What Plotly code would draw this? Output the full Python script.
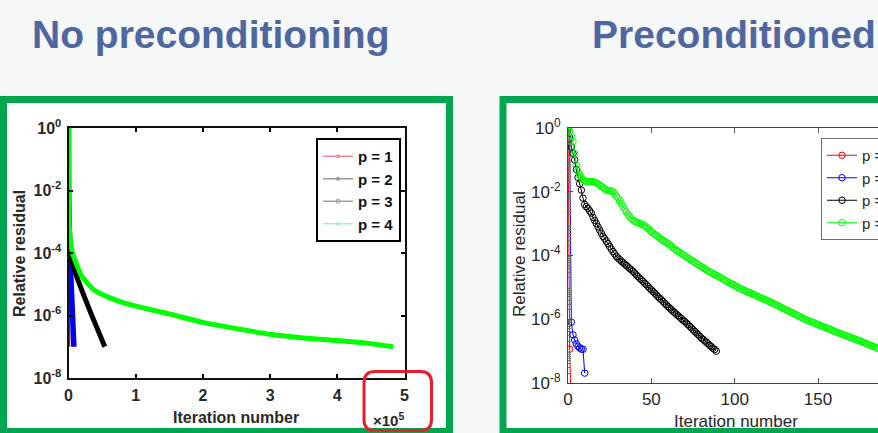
import plotly.graph_objects as go

W, H = 878, 433

# ---------------- data ----------------
# Left panel: no preconditioning (iteration in units of 1e5, residual given as log10)
left_p1_iter = [0, 0.005, 0.01, 0.012]
left_p1_log10res = [0, -3.0, -5.5, -7.0]
left_p2_iter = [0, 0.002, 0.02, 0.05, 0.08]
left_p2_log10res = [0, -3.0, -4.0, -5.5, -7.0]
left_p3_iter = [0, 0.01, 0.05, 0.097, 0.3, 0.54]
left_p3_log10res = [0, -3.0, -4.2, -4.6, -5.75, -7.0]
left_p4_iter = [0, 0.002, 0.01, 0.03, 0.06, 0.1, 0.2, 0.39, 0.6, 0.79, 1.0,
                1.5, 2.0, 2.5, 3.0, 3.5, 4.0, 4.5, 4.83]
left_p4_log10res = [0, -1.5, -3.0, -3.65, -4.0, -4.25, -4.75, -5.2, -5.42, -5.57, -5.7,
                    -5.95, -6.22, -6.42, -6.6, -6.72, -6.8, -6.9, -7.0]

# Right panel: preconditioned (iteration index, residual given as log10)
right_p1_log10res = [0, -6.94, -9.0]
right_p2_log10res = [0, -0.3, -6.09, -6.49, -6.65, -6.77, -6.85, -6.9, -6.94, -6.94, -7.69]
right_p3_log10res = [
    0, -0.35, -0.6, -0.8, -1.0, -1.3, -1.55, -1.75, -1.95, -2.2,
    -2.4, -2.47, -2.52, -2.6, -2.67, -2.8, -2.9, -3.0, -3.1, -3.2,
    -3.3, -3.4, -3.47, -3.55, -3.63, -3.72, -3.8, -3.88, -3.95, -4.03,
    -4.08, -4.13, -4.18, -4.22, -4.27, -4.31, -4.36, -4.41, -4.45, -4.5,
    -4.55, -4.61, -4.66, -4.71, -4.76, -4.81, -4.87, -4.92, -4.97, -5.03,
    -5.08, -5.13, -5.18, -5.24, -5.29, -5.34, -5.39, -5.44, -5.5, -5.55,
    -5.6, -5.65, -5.7, -5.75, -5.79, -5.84, -5.89, -5.93, -5.98, -6.03,
    -6.07, -6.12, -6.17, -6.22, -6.27, -6.33, -6.38, -6.43, -6.48, -6.53,
    -6.59, -6.63, -6.68, -6.72, -6.77, -6.82, -6.86, -6.91, -6.95, -7.0]
right_p4_log10res = [
    0, -0.1, -0.25, -0.43, -0.8, -1.15, -1.35, -1.47, -1.55, -1.62,
    -1.66, -1.68, -1.68, -1.68, -1.68, -1.69, -1.7, -1.72, -1.75, -1.79,
    -1.83, -1.87, -1.91, -1.94, -1.96, -1.97, -1.98, -2.0, -2.07, -2.14,
    -2.2, -2.29, -2.38, -2.47, -2.55, -2.63, -2.71, -2.78, -2.84, -2.89,
    -2.93, -2.95, -2.97, -2.99, -3.01, -3.04, -3.07, -3.11, -3.15, -3.2,
    -3.25, -3.29, -3.33, -3.37, -3.41, -3.45, -3.49, -3.53, -3.56, -3.59,
    -3.62, -3.66, -3.71, -3.76, -3.8, -3.83, -3.87, -3.9, -3.94, -3.97,
    -4.01, -4.04, -4.08, -4.11, -4.15, -4.18, -4.21, -4.25, -4.28, -4.32,
    -4.35, -4.38, -4.42, -4.45, -4.48, -4.51, -4.54, -4.57, -4.6, -4.62,
    -4.65, -4.68, -4.71, -4.74, -4.77, -4.8, -4.83, -4.86, -4.89, -4.91,
    -4.94, -4.97, -5.0, -5.03, -5.05, -5.08, -5.1, -5.12, -5.15, -5.17,
    -5.19, -5.22, -5.24, -5.26, -5.29, -5.31, -5.33, -5.36, -5.38, -5.4,
    -5.43, -5.45, -5.47, -5.5, -5.53, -5.55, -5.58, -5.6, -5.63, -5.66,
    -5.68, -5.71, -5.73, -5.76, -5.79, -5.81, -5.84, -5.86, -5.89, -5.92,
    -5.94, -5.97, -5.99, -6.02, -6.04, -6.06, -6.08, -6.1, -6.12, -6.15,
    -6.17, -6.19, -6.21, -6.23, -6.25, -6.27, -6.29, -6.31, -6.33, -6.36,
    -6.38, -6.4, -6.42, -6.44, -6.46, -6.48, -6.5, -6.52, -6.54, -6.56,
    -6.58, -6.6, -6.62, -6.64, -6.66, -6.68, -6.7, -6.72, -6.74, -6.76,
    -6.79, -6.81, -6.83, -6.85, -6.87, -6.89, -6.91]

series_names = ["p = 1", "p = 2", "p = 3", "p = 4"]
series_colors = ["#ff0000", "#0000ff", "#000000", "#00ff00"]
left_legend_colors = ["#f08aa0", "#9a9a9a", "#a0a0a0", "#a8ecd8"]

y_tick_vals = [1, 1e-2, 1e-4, 1e-6, 1e-8]
y_tick_text = ["10<sup>0</sup>", "10<sup>-2</sup>", "10<sup>-4</sup>", "10<sup>-6</sup>", "10<sup>-8</sup>"]
left_x_ticks = [0, 1, 2, 3, 4, 5]
right_x_ticks = [0, 50, 100, 150]

panel_titles = ["No preconditioning", "Preconditioned"]


def res(vals):
    return [10 ** v for v in vals]


def px(x):
    return x / W


def py(y):
    return 1 - y / H


# minor log tick positions (2..9 in every decade) for the right axis
minor_log_ticks = [m * 10.0 ** e for e in range(-8, 0) for m in range(2, 10)]

fig = go.Figure()

# ---- left panel traces ----
left_iters = [left_p1_iter, left_p2_iter, left_p3_iter, left_p4_iter]
left_vals = [left_p1_log10res, left_p2_log10res, left_p3_log10res, left_p4_log10res]
left_widths = [2, 5.5, 5, 5]
for i in range(4):
    fig.add_trace(go.Scatter(
        x=left_iters[i], y=res(left_vals[i]), mode="lines",
        line=dict(color=series_colors[i], width=left_widths[i], shape="spline", smoothing=0.6),
        xaxis="x", yaxis="y", showlegend=False, hoverinfo="skip"))
# faded legend entries of the left figure
for i in range(4):
    fig.add_trace(go.Scatter(
        x=[None], y=[None], mode="lines+markers", name=series_names[i],
        line=dict(color=left_legend_colors[i], width=1.5),
        marker=dict(symbol="circle-open" if i == 2 else "circle", size=4,
                    color=left_legend_colors[i]),
        xaxis="x", yaxis="y", legend="legend", showlegend=True))

# ---- right panel traces ----
right_vals = [right_p1_log10res, right_p2_log10res, right_p3_log10res, right_p4_log10res]
for i in range(4):
    fig.add_trace(go.Scatter(
        x=list(range(len(right_vals[i]))), y=res(right_vals[i]), mode="lines+markers",
        name=series_names[i],
        line=dict(color=series_colors[i], width=1),
        marker=dict(symbol="circle-open", size=6.5, color=series_colors[i],
                    line=dict(width=1, color=series_colors[i])),
        xaxis="x2", yaxis="y2", legend="legend2", showlegend=True))

left_font = dict(family="Liberation Sans, Arial, sans-serif", size=16, color="#2a2a2a", weight="bold")
right_font = dict(family="Liberation Sans, Arial, sans-serif", size=17, color="#262626")

shapes = [
    # green frames
    dict(type="rect", xref="paper", yref="paper", x0=px(3.5), x1=px(449.5), y0=py(431.5), y1=py(99.5),
         line=dict(color="#00a550", width=7), fillcolor="white", layer="below"),
    dict(type="rect", xref="paper", yref="paper", x0=px(503), x1=px(905), y0=py(431.5), y1=py(99.5),
         line=dict(color="#00a550", width=7), fillcolor="white", layer="below"),
]
# red rounded rectangle
rx0, rx1, ry0, ry1, r = 364, 431.5, 371.5, 430.5, 11
path = (f"M {px(rx0 + r)},{py(ry0)} L {px(rx1 - r)},{py(ry0)} "
        f"Q {px(rx1)},{py(ry0)} {px(rx1)},{py(ry0 + r)} "
        f"L {px(rx1)},{py(ry1 - r)} Q {px(rx1)},{py(ry1)} {px(rx1 - r)},{py(ry1)} "
        f"L {px(rx0 + r)},{py(ry1)} Q {px(rx0)},{py(ry1)} {px(rx0)},{py(ry1 - r)} "
        f"L {px(rx0)},{py(ry0 + r)} Q {px(rx0)},{py(ry0)} {px(rx0 + r)},{py(ry0)} Z")
shapes.append(dict(type="path", xref="paper", yref="paper", path=path,
                   line=dict(color="#e5202b", width=3), layer="above"))

title_font = dict(family="Liberation Sans, Arial, sans-serif", size=39, color="#4f67a1", weight="bold")


def ann(text, x, y, font, angle=0):
    return dict(text=text, x=px(x), y=py(y), xref="paper", yref="paper",
                xanchor="center", yanchor="middle", textangle=angle,
                showarrow=False, font=font)


annotations = [
    dict(text=panel_titles[0], x=px(30), y=py(35), xref="paper", yref="paper",
         xanchor="left", yanchor="middle", showarrow=False, font=title_font),
    dict(text=panel_titles[1], x=px(590), y=py(35), xref="paper", yref="paper",
         xanchor="left", yanchor="middle", showarrow=False, font=title_font),
    ann("Relative residual", 20, 254, dict(left_font, size=16), -90),
    ann("Iteration number", 236, 417, dict(left_font, size=16)),
    ann("×10<sup>5</sup>", 388, 419, dict(left_font, size=15)),
    ann("Relative residual", 520, 254, right_font, -90),
    ann("Iteration number", 736, 421, right_font),
]

fig.update_layout(
    width=W, height=H,
    margin=dict(l=0, r=0, t=0, b=0, autoexpand=False),
    paper_bgcolor="#f6f7f7", plot_bgcolor="white",
    shapes=shapes, annotations=annotations,
    xaxis=dict(domain=[px(68.5), px(404.5)], range=[0, 5], anchor="y",
               tickvals=left_x_ticks, ticks="inside", ticklen=4, tickwidth=2, tickcolor="black",
               showline=True, linecolor="#111", linewidth=2, mirror="ticks",
               showgrid=False, zeroline=False, tickfont=left_font, ticklabelstandoff=2),
    yaxis=dict(domain=[py(378), py(128)], type="log", range=[-8, 0], anchor="x",
               tickvals=y_tick_vals, ticktext=y_tick_text, ticks="inside", ticklen=4, tickwidth=2,
               tickcolor="black", showline=True, linecolor="#111", linewidth=2, mirror="ticks",
               showgrid=False, zeroline=False, tickfont=left_font, ticklabelstandoff=2),
    xaxis2=dict(domain=[px(568), 1.0], range=[0, 186], anchor="y2",
                tickvals=right_x_ticks, ticks="inside", ticklen=5, tickcolor="#555",
                showline=True, linecolor="#444", linewidth=1, mirror="ticks",
                showgrid=False, zeroline=False, tickfont=right_font, ticklabelstandoff=1),
    yaxis2=dict(domain=[py(383), py(128)], type="log", range=[-8, 0], anchor="x2",
                tickvals=y_tick_vals, ticktext=y_tick_text, ticks="inside", ticklen=5,
                tickcolor="#555", showline=True, linecolor="#444", linewidth=1, mirror=False,
                showgrid=False, zeroline=False, tickfont=right_font, ticklabelstandoff=3,
                minor=dict(tickmode="array", tickvals=minor_log_ticks, ticks="inside",
                           ticklen=3, tickcolor="#777", showgrid=False)),
    legend=dict(x=px(316), y=py(138), xanchor="left", yanchor="top", bgcolor="white",
                bordercolor="black", borderwidth=2, font=dict(left_font, size=15, color="#111")),
    legend2=dict(x=px(821), y=py(138), xanchor="left", yanchor="top", bgcolor="white",
                 bordercolor="#6e6e6e", borderwidth=1, font=dict(right_font, size=15)),
)

fig.write_html("out.html")
